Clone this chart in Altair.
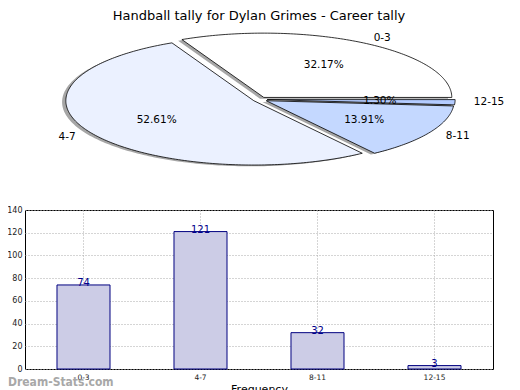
import altair as alt
import numpy as np
import pandas as pd

# ---- data ----
categories = ["0-3", "4-7", "8-11", "12-15"]
counts = [74, 121, 32, 3]
title_text = "Handball tally for Dylan Grimes - Career tally"
x_title = "Frequency"
y_title = "Stat Intervals"
watermark = "Dream-Stats.com"
y_ticks = [0, 20, 40, 60, 80, 100, 120, 140]

# ---- styles ----
pie_colors = ["#ffffff", "#ebf1ff", "#c4d8ff", "#b4ccff"]
shadow_color = "#4d4d4d"
bar_fill = "#ccccE6"
bar_stroke = "#000080"
text_blue = "#00008b"
explode = 0.038
shadow_off = -0.02
FONT = "DejaVu Sans"

W, H = 468, 159

# ---- pie geometry derived from counts ----
total = float(sum(counts))
rows, lab_rows = [], []
start = 0.0
for cat, v in zip(categories, counts):
    t1 = start
    t2 = start + v / total * 360.0
    mid = np.radians((t1 + t2) / 2.0)
    ox, oy = explode * np.cos(mid), explode * np.sin(mid)
    n = max(3, int(t2 - t1) + 2)
    angs = np.radians(np.linspace(t1, t2, n))
    pts = [(0.0, 0.0)] + [(np.cos(a), np.sin(a)) for a in angs]
    for kind, d in (("shadow", shadow_off), ("wedge", 0.0)):
        for i, (px, py) in enumerate(pts):
            rows.append({"cat": cat, "kind": kind, "i": i,
                         "x": px + ox + d, "y": py + oy + d})
    lab_rows.append({"cat": cat,
                     "lx": ox + 1.1 * np.cos(mid), "ly": oy + 1.1 * np.sin(mid),
                     "px": ox + 0.6 * np.cos(mid), "py": oy + 0.6 * np.sin(mid),
                     "pct": f"{v / total * 100:.2f}%",
                     "side": "r" if np.cos(mid) > 0 else "l"})
    start = t2

pie_df = pd.DataFrame(rows)
lab_df = pd.DataFrame(lab_rows)

xs = alt.Scale(domain=[-1, 1], range=[47, 423], nice=False, zero=False)
ys = alt.Scale(domain=[-1, 1], range=[-46.2, -174.8], nice=False, zero=False)
X = alt.X("x:Q", scale=xs, axis=None)
Y = alt.Y("y:Q", scale=ys, axis=None)

shadow = alt.Chart(pie_df).transform_filter("datum.kind == 'shadow'").mark_line(
    interpolate="linear-closed", strokeWidth=0, fill=shadow_color, fillOpacity=0.5
).encode(x=X, y=Y, order=alt.Order("i:Q"), detail="cat:N")
wedge = alt.Chart(pie_df).transform_filter("datum.kind == 'wedge'").mark_line(
    interpolate="linear-closed", stroke="black", strokeWidth=0.8
).encode(
    x=X, y=Y, order=alt.Order("i:Q"), detail="cat:N",
    fill=alt.Fill("cat:N", scale=alt.Scale(domain=categories, range=pie_colors), legend=None),
)
LX = alt.X("lx:Q", scale=xs, axis=None)
LY = alt.Y("ly:Q", scale=ys, axis=None)
lab_r = alt.Chart(lab_df).transform_filter("datum.side == 'r'").mark_text(
    align="left", baseline="middle", fontSize=10.5, font=FONT, color="black"
).encode(x=LX, y=LY, text="cat:N")
lab_l = alt.Chart(lab_df).transform_filter("datum.side == 'l'").mark_text(
    align="right", baseline="middle", fontSize=10.5, font=FONT, color="black"
).encode(x=LX, y=LY, text="cat:N")
pct = alt.Chart(lab_df).mark_text(
    align="center", baseline="middle", fontSize=10.5, font=FONT, color="black"
).encode(x=alt.X("px:Q", scale=xs, axis=None), y=alt.Y("py:Q", scale=ys, axis=None), text="pct:N")

pie = alt.layer(shadow, wedge, lab_r, lab_l, pct)

# ---- bar chart ----
bar_df = pd.DataFrame({"cat": categories, "count": counts})
bx = alt.X("cat:N", sort=categories, title=x_title,
           scale=alt.Scale(paddingInner=0.547, paddingOuter=0.2735),
           axis=alt.Axis(labelAngle=0, labelFontSize=7.5, labelColor="#222", domain=False,
                         ticks=False, labelPadding=4, grid=True, gridDash=[1, 2],
                         gridColor="#aaa", gridWidth=1, titleFontSize=11,
                         titleFontWeight="normal", titlePadding=3, titleColor="black"))
by = alt.Y("count:Q", title=y_title,
           scale=alt.Scale(domain=[0, 140], nice=False),
           axis=alt.Axis(values=y_ticks, labelOverlap=False, labelFontSize=8,
                         labelColor="#222", domain=False,
                         ticks=False, labelPadding=3, grid=True, gridDash=[1, 2],
                         gridColor="#aaa", gridWidth=1, titleFontSize=11,
                         titleFontWeight="normal", titlePadding=2, titleColor="black"))

bars = alt.Chart(bar_df).mark_bar(fill=bar_fill, stroke=bar_stroke, strokeWidth=1).encode(x=bx, y=by)
btext = alt.Chart(bar_df).mark_text(
    baseline="alphabetic", dy=1, fontSize=10, font=FONT, color=text_blue
).encode(x=bx, y=by, text="count:Q")
wm = alt.Chart(pd.DataFrame({"t": [watermark]})).mark_text(
    align="left", baseline="alphabetic", fontSize=12, fontWeight="bold",
    font="DejaVu Sans Condensed", color="#999", opacity=0.85
).encode(x=alt.value(-17), y=alt.value(176), text="t:N")

bar_layer = alt.layer(bars, btext, wm)

chart = alt.layer(bar_layer, pie).resolve_scale(x="independent", y="independent").properties(
    width=W, height=H,
    title=alt.TitleParams(title_text, fontSize=13, font=FONT, fontWeight="normal",
                          anchor="middle", offset=9, color="black"),
    autosize=alt.AutoSizeParams(type="none"),
    padding={"left": 17, "top": 202, "right": 19, "bottom": 21},
).configure(font=FONT).configure_view(stroke="black", strokeWidth=1)

chart.save("out.html", embed_options={"renderer": "svg", "actions": False})
